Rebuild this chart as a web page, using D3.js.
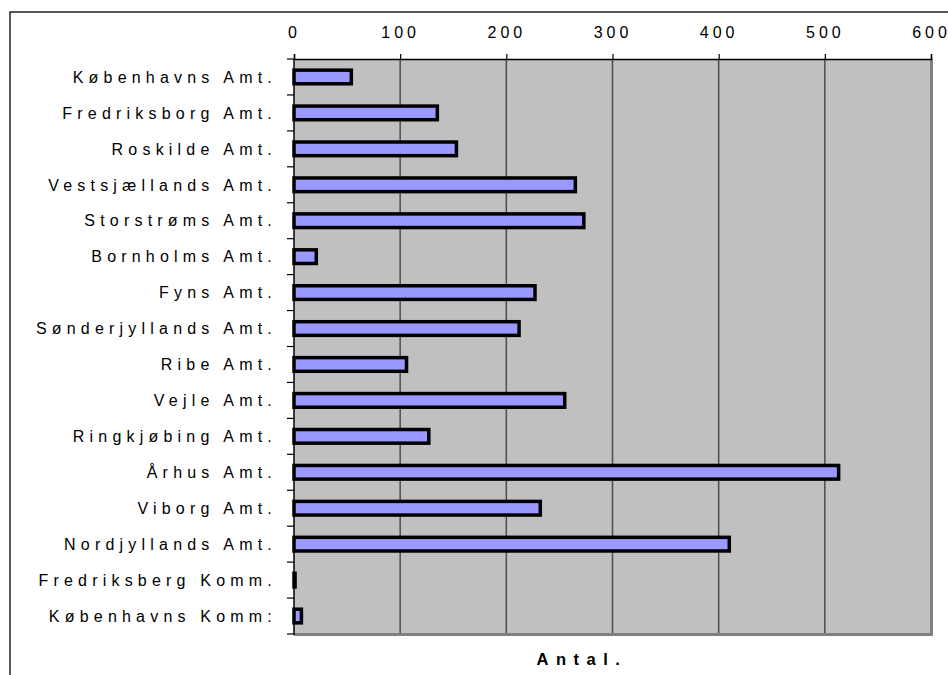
<!DOCTYPE html>
<html>
<head>
<meta charset="utf-8">
<script src="https://cdn.jsdelivr.net/npm/d3@7"></script>
<style>
  body { margin: 0; background: #fff; }
  text { font-family: "Liberation Sans", Arial, sans-serif; fill: #000; }
</style>
</head>
<body>
<svg id="chart" width="948" height="675"></svg>
<script>
// amter / kommuner
var amter = ["Københavns Amt.", "Fredriksborg Amt.", "Roskilde Amt.", "Vestsjællands Amt.",
             "Storstrøms Amt.", "Bornholms Amt.", "Fyns Amt.", "Sønderjyllands Amt.",
             "Ribe Amt.", "Vejle Amt.", "Ringkjøbing Amt.", "Århus Amt.", "Viborg Amt.",
             "Nordjyllands Amt.", "Fredriksberg Komm.", "Københavns Komm:"];
var antal = [54, 135, 153, 265, 273, 21, 227, 212, 106, 255, 127, 513, 232, 410, 1, 7];
var xTicks = [0, 100, 200, 300, 400, 500, 600];

var svg = d3.select("#chart");

//plot area
var plot = {left: 294, top: 59, right: 931, bottom: 634};

// outer frame (runs off the page to the right and bottom)
svg.append("rect")
    .attr("x", 10).attr("y", 12)
    .attr("width", 1000).attr("height", 1000)
    .attr("fill", "none")
    .attr("stroke", "#222")
    .attr("stroke-width", 1.5);

var xScale = d3.scaleLinear()
    .domain([0, 600])
    .range([plot.left, plot.right]);

var yScale = d3.scaleBand()
    .domain(amter)
    .range([plot.top, plot.bottom])
    .paddingInner(0.62)
    .paddingOuter(0.31);

// gray background
svg.append("rect")
    .attr("x", plot.left).attr("y", plot.top)
    .attr("width", plot.right - plot.left)
    .attr("height", plot.bottom - plot.top)
    .attr("fill", "#c0c0c0");

// gridlines
svg.append("g")
    .selectAll("line")
    .data(xTicks.slice(1, -1))
    .enter()
    .append("line")
    .attr("x1", function(d) { return xScale(d); })
    .attr("x2", function(d) { return xScale(d); })
    .attr("y1", plot.top)
    .attr("y2", plot.bottom)
    .attr("stroke", "#4d4d4d")
    .attr("stroke-width", 1.5);

// gray right/bottom edges of the plot
svg.append("path")
    .attr("d", "M" + (plot.right + 0.5) + "," + plot.top +
               "V" + (plot.bottom + 0.5) + "H" + plot.left)
    .attr("fill", "none")
    .attr("stroke", "#808080")
    .attr("stroke-width", 3);

// bars
svg.append("g")
    .selectAll("rect")
    .data(amter)
    .enter()
    .append("rect")
    .attr("x", xScale(0))
    .attr("y", function(d) { return yScale(d); })
    .attr("width", function(d, i) { return xScale(antal[i]) - xScale(0); })
    .attr("height", yScale.bandwidth())
    .attr("fill", "#9999ff")
    .attr("stroke", "#000")
    .attr("stroke-width", 3.5);

// top axis
var xAxis = d3.axisTop(xScale)
    .tickValues(xTicks)
    .tickSize(5)
    .tickPadding(16)
    .tickFormat(d3.format("d"));

var xg = svg.append("g")
    .attr("transform", "translate(0," + plot.top + ")")
    .call(xAxis);
xg.select(".domain").attr("stroke", "#000").attr("stroke-width", 1.5);
xg.selectAll(".tick line").attr("stroke", "#000").attr("stroke-width", 1.2);
xg.selectAll(".tick text")
    .attr("font-size", 16)
    .attr("font-family", "Liberation Sans, Arial, sans-serif")
    .style("letter-spacing", "4px")
    .attr("dx", "0px");

// left axis: ticks between the categories
var yg = svg.append("g");
var edges = amter.map(function(d) { return yScale(d) - yScale.step() * yScale.paddingInner() / 2; });
edges.push(plot.bottom);
yg.selectAll("line.tk")
    .data(edges)
    .enter()
    .append("line")
    .attr("x1", plot.left - 7)
    .attr("x2", plot.left)
    .attr("y1", function(d) { return d; })
    .attr("y2", function(d) { return d; })
    .attr("stroke", "#000")
    .attr("stroke-width", 1.2);
yg.append("line")
    .attr("x1", plot.left).attr("x2", plot.left)
    .attr("y1", plot.top).attr("y2", plot.bottom + 1)
    .attr("stroke", "#000")
    .attr("stroke-width", 1.5);

yg.selectAll("text")
    .data(amter)
    .enter()
    .append("text")
    .attr("x", 277)
    .attr("y", function(d) { return yScale(d) + yScale.bandwidth() / 2; })
    .attr("dy", "0.36em")
    .attr("text-anchor", "end")
    .attr("font-size", 16)
    .style("letter-spacing", "5.2px")
    .text(function(d) { return d; });

// axis title
svg.append("text")
    .attr("x", 582)
    .attr("y", 665)
    .attr("text-anchor", "middle")
    .attr("font-size", 16.5)
    .attr("font-weight", "bold")
    .style("letter-spacing", "7.5px")
    .text("Antal.");
</script>
</body>
</html>
